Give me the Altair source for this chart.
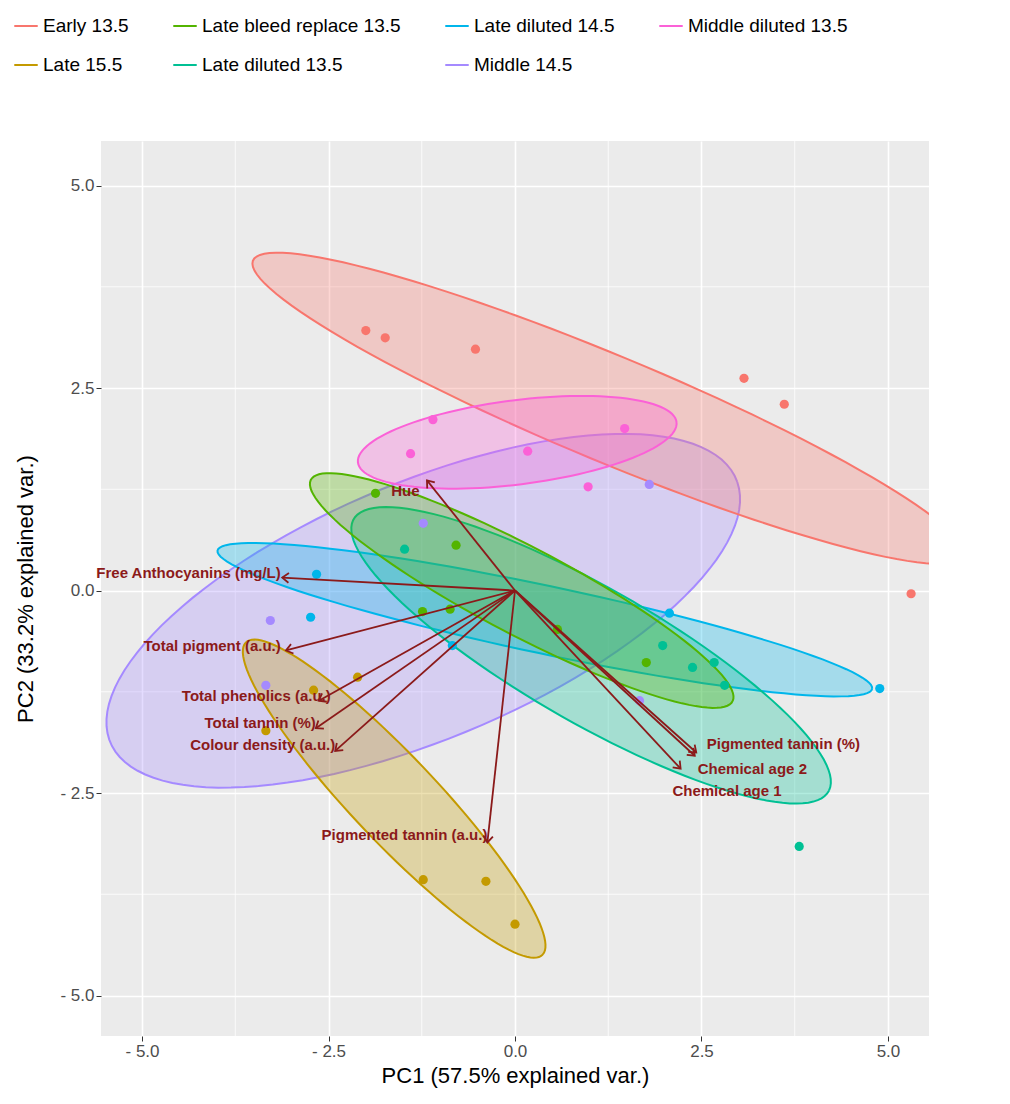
import altair as alt
import numpy as np
import pandas as pd

groups = ["Early 13.5","Late bleed replace 13.5","Late diluted 14.5","Middle diluted 13.5",
          "Late 15.5","Late diluted 13.5","Middle 14.5"]
colors = ["#F8766D","#53B400","#00B6EB","#FB61D7","#C49A00","#00C094","#A58AFF"]

pt_group = (["Early 13.5"]*6 + ["Middle diluted 13.5"]*5 + ["Middle 14.5"]*5 +
            ["Late bleed replace 13.5"]*6 + ["Late diluted 13.5"]*6 +
            ["Late diluted 14.5"]*5 + ["Late 15.5"]*6)
pt_x = [-2.0,-1.74,-0.53,3.07,3.61,5.31,
        -1.10,-1.40,1.47,0.17,0.98,
        1.80,-1.23,-3.28,-3.34,1.67,
        -1.87,-0.79,-1.24,-0.87,0.57,1.76,
        -1.48,1.98,2.38,2.67,2.81,3.81,
        -2.66,-2.74,2.07,4.89,-0.84,
        -2.70,-2.11,-3.34,-1.23,-0.39,0.0]
pt_y = [3.21,3.12,2.98,2.62,2.30,-0.04,
        2.11,1.69,2.0,1.72,1.28,
        1.31,0.83,-0.37,-1.17,-1.36,
        1.20,0.56,-0.26,-0.23,-0.48,-0.89,
        0.51,-0.68,-0.95,-0.89,-1.17,-3.16,
        0.20,-0.33,-0.28,-1.21,-0.68,
        -1.23,-1.07,-1.73,-3.57,-3.59,-4.12]

# ellipse parameters: group, centre x, centre y, semi-major, semi-minor, angle(deg)
ell_group = ["Middle 14.5","Early 13.5","Middle diluted 13.5","Late diluted 14.5",
             "Late diluted 13.5","Late bleed replace 13.5","Late 15.5"]
ell_cx = [-1.23,1.25,0.03,0.4,1.02,0.09,-1.62]
ell_cy = [-0.25,2.25,1.83,-0.36,-0.80,0.0,-2.57]
ell_a = [4.5,5.1,2.15,4.47,3.6,3.14,2.77]
ell_b = [1.6,0.66,0.52,0.42,0.85,0.55,0.55]
ell_ang = [20.7,-20.9,6.6,-11.0,-27.6,-25.7,-44.0]

arr_label = ["Hue","Free Anthocyanins (mg/L)","Total pigment (a.u.)","Total phenolics (a.u.)",
             "Total tannin (%)","Colour density (a.u.)","Pigmented tannin (a.u.)",
             "Pigmented tannin (%)","Chemical age 2","Chemical age 1"]
arr_x = [-1.18,-3.12,-3.07,-2.63,-2.67,-2.41,-0.37,2.43,2.41,2.22]
arr_y = [1.36,0.16,-0.74,-1.36,-1.70,-1.98,-3.11,-2.0,-2.04,-2.2]
lab_x = [-1.47,-3.14,-3.14,-2.47,-2.67,-2.41,-0.37,2.57,2.45,2.11]
lab_y = [1.23,0.22,-0.68,-1.30,-1.63,-1.91,-3.02,-1.90,-2.20,-2.47]
lab_align = ["center","right","right","right","right","right","right","left","left","left"]

major = [-5.0,-2.5,0.0,2.5,5.0]
minor = [-3.75,-1.25,1.25,3.75]

XD = [-5.55,5.55]; YD = [-5.5,5.55]
W, H = 828, 895
xs = alt.Scale(domain=XD, nice=False, zero=False)
ys = alt.Scale(domain=YD, nice=False, zero=False)
cs = alt.Scale(domain=groups, range=colors)

rows = []
t = np.linspace(0, 2*np.pi, 121)
for g, cx, cy, a, b, an in zip(ell_group, ell_cx, ell_cy, ell_a, ell_b, ell_ang):
    r = np.radians(an)
    for i, tt in enumerate(t):
        ex = a*np.cos(tt); ey = b*np.sin(tt)
        rows.append(dict(g=g, x=cx+ex*np.cos(r)-ey*np.sin(r), y=cy+ex*np.sin(r)+ey*np.cos(r), o=i))
ell = pd.DataFrame(rows)
pts = pd.DataFrame(dict(g=pt_group, x=pt_x, y=pt_y))
px, py = W/(XD[1]-XD[0]), H/(YD[1]-YD[0])
arr = pd.DataFrame(dict(l=arr_label, x=arr_x, y=arr_y, x0=0.0, y0=0.0,
                        lx=lab_x, ly=lab_y, al=lab_align,
                        ang=[(np.degrees(np.arctan2(a*px, b*py)))%360 for a, b in zip(arr_x, arr_y)]))

gridmin = pd.DataFrame(dict(v=minor))
lab_expr = "replace(replace(format(datum.value,'.1f'),'\u2212','- '),'-','- ')"
base_x = alt.X("x:Q", scale=xs, title="PC1 (57.5% explained var.)",
               axis=alt.Axis(values=major, labelExpr=lab_expr))
base_y = alt.Y("y:Q", scale=ys, title="PC2 (33.2% explained var.)",
               axis=alt.Axis(values=major, labelExpr=lab_expr))

vmin = alt.Chart(gridmin).mark_rule(color="white", strokeWidth=0.8).encode(x=alt.X("v:Q", scale=xs))
hmin = alt.Chart(gridmin).mark_rule(color="white", strokeWidth=0.8).encode(y=alt.Y("v:Q", scale=ys))

legend = alt.Legend(orient="none", legendX=-88, legendY=-128, direction="horizontal",
                    columns=4, symbolType="stroke",
                    symbolStrokeWidth=2, symbolSize=550,
                    labelFontSize=19, labelFont="Liberation Sans", labelColor="black",
                    columnPadding=40, rowPadding=16,
                    labelLimit=400, title=None)

ellipses = alt.Chart(ell).mark_line(strokeWidth=2, fillOpacity=0.3, clip=True, filled=True).encode(
    x=base_x, y=base_y, order="o:Q",
    stroke=alt.Stroke("g:N", scale=cs, legend=legend),
    fill=alt.Fill("g:N", scale=cs, legend=None), detail="g:N")

points = alt.Chart(pts).mark_point(filled=True, size=85, opacity=1).encode(
    x="x:Q", y="y:Q",
    color=alt.Color("g:N", scale=cs, legend=None))

dark = "#8B1A1A"
segs = alt.Chart(arr).mark_rule(color=dark, strokeWidth=1.8).encode(
    x="x0:Q", y="y0:Q", x2="x:Q", y2="y:Q")
heads = alt.Chart(arr).mark_point(shape="M -0.6 0.8 L 0 0 L 0.6 0.8", filled=False,
                                  color=dark, strokeWidth=1.8, size=260, opacity=1).encode(
    x="x:Q", y="y:Q", angle=alt.Angle("ang:Q", scale=None))
texts = []
for al in ["left","center","right"]:
    texts.append(alt.Chart(arr).transform_filter(alt.datum.al == al).mark_text(
        align=al, baseline="middle", fontWeight="bold", fontSize=15, color=dark,
        font="Liberation Sans").encode(x="lx:Q", y="ly:Q", text="l:N"))

chart = alt.layer(vmin, hmin, ellipses, points, segs, heads, *texts).properties(
    width=W, height=H, background="white"
).resolve_legend(stroke="independent").configure_view(fill="#EBEBEB", stroke=None).configure_axis(
    grid=True, gridColor="white", gridWidth=1.6, domain=False, tickColor="#333333",
    tickSize=5, labelFontSize=17, labelColor="#4D4D4D", labelFont="Liberation Sans",
    titleFont="Liberation Sans", titleFontSize=22, titleFontWeight="normal", titleColor="black"
).configure_axisX(titlePadding=6).configure_axisY(titlePadding=18)

chart.save("out.html", embed_options={"renderer": "svg", "actions": False})
